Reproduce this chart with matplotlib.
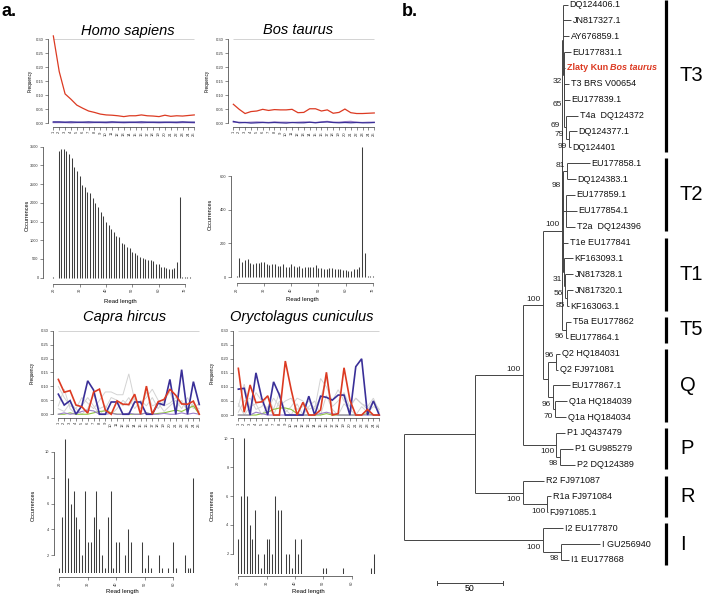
import matplotlib
matplotlib.use("Agg")
import matplotlib.pyplot as plt
import numpy as np

plt.rcParams['font.family'] = ['Liberation Sans', 'DejaVu Sans']

W, H, DPI = 706, 595, 100

# ---------------- panel a : frequency data ----------------
pos = list(range(1, 26))

homo_red = [0.312, 0.185, 0.105, 0.086, 0.065, 0.054, 0.044, 0.039, 0.033, 0.030, 0.029, 0.027, 0.024,
            0.027, 0.027, 0.030, 0.027, 0.026, 0.024, 0.029, 0.025, 0.027, 0.026, 0.028, 0.030]
homo_blue = [0.005, 0.005, 0.004, 0.005, 0.004, 0.004, 0.005, 0.004, 0.004, 0.004, 0.005, 0.004, 0.004,
             0.004, 0.004, 0.005, 0.004, 0.004, 0.004, 0.004, 0.004, 0.004, 0.005, 0.004, 0.004]
homo_purple = [0.003, 0.003, 0.003, 0.002, 0.003, 0.003, 0.002, 0.003, 0.003, 0.002, 0.003, 0.003, 0.002,
               0.003, 0.003, 0.002, 0.003, 0.003, 0.002, 0.003, 0.003, 0.002, 0.003, 0.003, 0.002]

bos_red = [0.068, 0.050, 0.035, 0.042, 0.044, 0.050, 0.046, 0.049, 0.048, 0.048, 0.050, 0.038, 0.039,
           0.052, 0.052, 0.044, 0.048, 0.036, 0.039, 0.051, 0.038, 0.035, 0.035, 0.036, 0.037]
bos_blue = [0.007, 0.002, 0.003, 0.001, 0.002, 0.003, 0.002, 0.003, 0.002, 0.001, 0.003, 0.002, 0.002,
            0.004, 0.002, 0.004, 0.005, 0.003, 0.002, 0.003, 0.002, 0.003, 0.002, 0.002, 0.003]
bos_purple = [0.004, 0.004, 0.003, 0.004, 0.005, 0.004, 0.003, 0.005, 0.004, 0.004, 0.003, 0.004, 0.005,
              0.004, 0.003, 0.005, 0.007, 0.004, 0.004, 0.006, 0.007, 0.004, 0.003, 0.004, 0.004]

capra_red = [0.125, 0.079, 0.085, 0.033, 0.027, 0.004, 0.079, 0.090, 0.015, 0.000, 0.048, 0.036, 0.035,
             0.072, 0.000, 0.101, 0.000, 0.045, 0.053, 0.090, 0.068, 0.037, 0.036, 0.047, 0.000]
capra_blue = [0.072, 0.033, 0.049, 0.000, 0.030, 0.120, 0.087, 0.000, 0.000, 0.044, 0.044, 0.000, 0.000,
              0.044, 0.044, 0.000, 0.000, 0.040, 0.033, 0.125, 0.000, 0.160, 0.000, 0.117, 0.035]
capra_gray1 = [0.100, 0.060, 0.030, 0.020, 0.060, 0.040, 0.020, 0.050, 0.080, 0.080, 0.070, 0.070, 0.145,
               0.050, 0.040, 0.060, 0.090, 0.050, 0.030, 0.040, 0.060, 0.040, 0.020, 0.030, 0.020]
capra_gray2 = [0.030, 0.090, 0.020, 0.000, 0.030, 0.060, 0.030, 0.000, 0.020, 0.060, 0.050, 0.030, 0.060,
               0.020, 0.050, 0.030, 0.060, 0.020, 0.050, 0.080, 0.020, 0.050, 0.010, 0.040, 0.010]
capra_gray3 = [0.020, 0.010, 0.040, 0.020, 0.000, 0.020, 0.070, 0.020, 0.030, 0.000, 0.020, 0.050, 0.030,
               0.060, 0.020, 0.080, 0.030, 0.040, 0.010, 0.030, 0.050, 0.020, 0.060, 0.020, 0.040]
capra_green = [0.000, 0.000, 0.005, 0.000, 0.000, 0.000, 0.005, 0.010, 0.012, 0.005, 0.000, 0.000, 0.000,
               0.000, 0.000, 0.005, 0.000, 0.003, 0.005, 0.010, 0.015, 0.010, 0.020, 0.030, 0.000]
capra_purple = [0.000, 0.005, 0.000, 0.003, 0.010, 0.015, 0.012, 0.000, 0.000, 0.003, 0.000, 0.000, 0.004,
                0.000, 0.000, 0.005, 0.000, 0.000, 0.003, 0.000, 0.000, 0.005, 0.000, 0.004, 0.000]

oryc_red = [0.166, 0.010, 0.107, 0.044, 0.047, 0.068, 0.000, 0.000, 0.192, 0.090, 0.000, 0.045, 0.000,
            0.000, 0.018, 0.152, 0.000, 0.005, 0.168, 0.053, 0.000, 0.000, 0.020, 0.000, 0.000]
oryc_blue = [0.092, 0.095, 0.000, 0.150, 0.059, 0.000, 0.118, 0.071, 0.000, 0.000, 0.000, 0.000, 0.067,
             0.000, 0.067, 0.063, 0.053, 0.071, 0.071, 0.000, 0.172, 0.200, 0.000, 0.050, 0.000]
oryc_gray1 = [0.030, 0.110, 0.020, 0.080, 0.050, 0.020, 0.060, 0.030, 0.050, 0.060, 0.020, 0.030, 0.050,
              0.020, 0.130, 0.100, 0.050, 0.090, 0.050, 0.030, 0.060, 0.040, 0.020, 0.050, 0.020]
oryc_gray2 = [0.010, 0.050, 0.060, 0.020, 0.030, 0.070, 0.020, 0.080, 0.010, 0.030, 0.060, 0.050, 0.020,
              0.030, 0.060, 0.130, 0.030, 0.050, 0.080, 0.030, 0.060, 0.040, 0.030, 0.060, 0.010]
oryc_gray3 = [0.040, 0.000, 0.030, 0.040, 0.000, 0.030, 0.000, 0.050, 0.020, 0.000, 0.040, 0.000, 0.030,
              0.050, 0.000, 0.070, 0.020, 0.000, 0.040, 0.020, 0.000, 0.030, 0.010, 0.030, 0.020]
oryc_green = [0.000, 0.000, 0.000, 0.000, 0.005, 0.010, 0.020, 0.025, 0.025, 0.020, 0.005, 0.000, 0.000,
              0.000, 0.000, 0.005, 0.000, 0.000, 0.000, 0.000, 0.000, 0.000, 0.005, 0.000, 0.000]
oryc_purple = [0.000, 0.000, 0.000, 0.010, 0.005, 0.000, 0.000, 0.000, 0.000, 0.000, 0.000, 0.000, 0.000,
               0.000, 0.005, 0.010, 0.005, 0.000, 0.000, 0.000, 0.000, 0.000, 0.000, 0.000, 0.000]

# ---------------- panel a : read-length histograms ----------------
homo_len = [20] + list(range(22, 73))
homo_cnt = [12, 3380, 3440, 3450, 3390, 3300, 3200, 2950, 2850, 2730, 2480, 2430, 2300, 2250, 2130, 2000,
            1900, 1750, 1650, 1500, 1420, 1300, 1230, 1120, 1080, 920, 900, 810, 780, 680, 660, 600, 560,
            530, 500, 480, 470, 450, 370, 360, 290, 290, 260, 230, 240, 270, 420, 2150, 10, 8, 6, 6]

bos_len = list(range(20, 71))
bos_cnt = [5, 110, 90, 100, 105, 85, 80, 85, 85, 90, 90, 75, 70, 75, 75, 65, 65, 75, 60, 60, 75, 65, 60,
           65, 55, 60, 60, 60, 60, 70, 55, 55, 45, 50, 55, 55, 50, 50, 45, 40, 40, 35, 35, 50, 50, 60,
           770, 140, 5, 4, 4]

capra_len = [20, 21, 22, 23, 24, 25, 26, 27, 28, 29, 30, 31, 32, 33, 34, 35, 36, 37, 38, 39, 40, 41, 43,
             44, 45, 49, 50, 51, 52, 55, 56, 58, 60, 61, 64, 65, 66, 67]
capra_cnt = [1, 5, 11, 8, 6, 7, 5, 4, 2, 7, 3, 3, 5, 7, 4, 2, 1, 5, 7, 1, 3, 3, 2,
             4, 3, 3, 1, 2, 1, 2, 1, 1, 3, 1, 2, 1, 1, 8]

oryc_len = [20, 21, 22, 23, 24, 25, 26, 27, 28, 29, 30, 31, 32, 33, 34, 35, 37, 38, 39, 40, 41, 42,
            50, 51, 57, 67, 68]
oryc_cnt = [3, 6, 10, 6, 4, 3, 5, 2, 1, 2, 3, 3, 2, 6, 5, 5, 2, 2, 1, 3, 2, 3,
            1, 1, 1, 1, 2]

freq_yticks = [0.00, 0.05, 0.10, 0.15, 0.20, 0.25, 0.30]
read_ticks = [20, 30, 40, 50, 60, 70]
read_ticks_short = [20, 30, 40, 50, 60]

# ---------------- panel b : tree data ----------------
ZLATY = "ZLATY"


def N(depth, boot, *children):
    return {'d': depth, 'b': boot, 'c': list(children)}


def L(name, depth):
    return {'d': depth, 'name': name}


tree = N(0, None,
         N(54, None,
           N(90, 100,
             N(105, 100,
               N(119.5, 100,
                 N(120, 69,
                   N(120.5, None, L('DQ124406.1', 124.2), L('JN817327.1', 126.5), L('AY676859.1', 125),
                     N(121, 32, L('EU177831.1', 126.5),
                       N(121.5, 65, L(ZLATY, 122), L('T3 BRS V00654', 125), L('EU177839.1', 125.8),
                         N(122.5, 79, L('T4a  DQ124372', 131.8),
                           N(125, 99, L('DQ124377.1', 131), L('DQ124401', 126.5)))))),
                   N(120.3, None,
                     N(120.8, 98,
                       N(123.5, 81, L('EU177858.1', 140.9), L('DQ124383.1', 130.3)),
                       N(122.7, None, L('EU177859.1', 129.5), L('EU177854.1', 131),
                         L('T2a  DQ124396', 129.5))),
                     N(120.5, None, L('T1e EU177841', 124.2),
                       N(121, 31, L('KF163093.1', 128),
                         N(122, 56, L('JN817328.1', 128),
                           N(123.5, 85, L('JN817320.1', 128), L('KF163063.1', 125))))))),
                 N(122.5, 96, L('T5a EU177862', 126.5), L('EU177864.1', 124.2))),
               N(109, None,
                 N(115, 96, L('Q2 HQ184031', 118.2), L('Q2 FJ971081', 116.7)),
                 N(113, 96, L('EU177867.1', 125.8),
                   N(114.5, 70, L('Q1a HQ184039', 123.5), L('Q1a HQ184034', 122.7))))),
             N(115.5, 100, L('P1 JQ437479', 122),
               N(118, 98, L('P1 GU985279', 128), L('P2 DQ124389', 129.5)))),
           N(90, 100, L('R2 FJ971087', 106),
             N(108.5, 100, L('R1a FJ971084', 111.4), L('FJ971085.1', 109)))),
         N(105, 100, L('I2 EU177870', 120.5),
           N(119, 98, L('I GU256940', 148.5), L('I1 EU177868', 125))))

clade_names = ['T3', 'T2', 'T1', 'T5', 'Q', 'P', 'R', 'I']
clade_first = [0, 10, 15, 20, 22, 27, 30, 33]
clade_last = [9, 14, 19, 21, 26, 29, 32, 35]
scale_value = 50

# ---------------- styling ----------------
RED = '#DC3A22'
BLUE = '#3A2F98'
PURPLE = '#9C80C9'
GREEN = '#8DC43F'
LGRAY = '#D3D3D3'
AXC = '#333333'
BARC = '#3d3d3d'

fig = plt.figure(figsize=(W / DPI, H / DPI), dpi=DPI)


def px_axes(l, t, r, b):
    return fig.add_axes([l / W, 1 - b / H, (r - l) / W, (b - t) / H])


def ftext(x, y, s, **kw):
    return fig.text(x / W, 1 - y / H, s, **kw)


def freq_panel(box, series, title, title_xy, ylab_x):
    l, t, r, b = box
    ax = px_axes(l, t, r, b)
    ax.set_xlim(0.04, 25.96)
    ax.set_ylim(-0.012, 0.312)
    ax.hlines(freq_yticks[-1], pos[0], pos[-1], color=LGRAY, lw=0.7, zorder=1)
    for vals, col, lw in series:
        ax.plot(pos, vals, color=col, lw=lw, clip_on=False, zorder=2, solid_joinstyle='miter')
    for s in ['top', 'right']:
        ax.spines[s].set_visible(False)
    ax.spines['left'].set_bounds(freq_yticks[0], freq_yticks[-1])
    ax.spines['bottom'].set_bounds(pos[0], pos[-1])
    for s in ['left', 'bottom']:
        ax.spines[s].set_linewidth(0.5)
        ax.spines[s].set_color(AXC)
    ax.set_yticks(freq_yticks)
    ax.set_yticklabels(['%.2f' % v for v in freq_yticks])
    ax.set_xticks(pos)
    ax.set_xticklabels([str(p) for p in pos], rotation=90)
    ax.tick_params(length=2, width=0.4, labelsize=3.0, pad=1.2, colors=AXC)
    ax.patch.set_alpha(0)
    ftext(title_xy[0], title_xy[1], title, ha='center', va='center', fontsize=10.5, style='italic')
    ftext(ylab_x, (t + b) / 2, 'Frequency', ha='center', va='center', rotation=90, fontsize=3.3)
    return ax


def hist_panel(box, xlim, ylim, lens, cnts, xt, yt, ylab_x, xlab_xy, yfmt, xoff=0):
    l, t, r, b = box
    ax = px_axes(l, t, r, b)
    ax.set_xlim(*xlim)
    ax.set_ylim(*ylim)
    ax.vlines(lens, 0, cnts, color=BARC, lw=0.75)
    for s in ['top', 'right']:
        ax.spines[s].set_visible(False)
    ax.spines['left'].set_bounds(yt[0], yt[-1])
    ax.spines['bottom'].set_bounds(xt[0], xt[-1])
    ax.spines['bottom'].set_position(('outward', xoff))
    for s in ['left', 'bottom']:
        ax.spines[s].set_linewidth(0.5)
        ax.spines[s].set_color(AXC)
    ax.set_yticks(yt)
    ax.set_yticklabels([yfmt % v for v in yt])
    ax.set_xticks(xt)
    ax.set_xticklabels([str(v) for v in xt], rotation=90)
    ax.tick_params(length=2, width=0.4, labelsize=2.8, pad=1.2, colors=AXC)
    ax.patch.set_alpha(0)
    ftext(ylab_x, (t + b) / 2 + 2, 'Occurrences', ha='center', va='center', rotation=90, fontsize=4.0)
    ftext(xlab_xy[0], xlab_xy[1], 'Read length', ha='center', va='center', fontsize=4.3)
    return ax


# frequency panels
freq_panel((47.7, 35.9, 199.9, 126.7),
           [(homo_purple, PURPLE, 1.0), (homo_blue, BLUE, 1.0), (homo_red, RED, 0.9)],
           'Homo sapiens', (128, 31), 30)
freq_panel((227.7, 35.9, 379.9, 126.7),
           [(bos_purple, PURPLE, 0.9), (bos_blue, BLUE, 0.9), (bos_red, RED, 0.9)],
           'Bos taurus', (298, 30), 207)
freq_panel((52.7, 327.3, 204.9, 417.6),
           [(capra_gray1, LGRAY, 0.7), (capra_gray2, LGRAY, 0.7), (capra_gray3, LGRAY, 0.7),
            (capra_green, GREEN, 0.8), (capra_purple, PURPLE, 0.8),
            (capra_blue, BLUE, 1.2), (capra_red, RED, 1.2)],
           'Capra hircus', (125, 317), 32)
freq_panel((232.7, 327.3, 384.9, 418.4),
           [(oryc_gray1, LGRAY, 0.7), (oryc_gray2, LGRAY, 0.7), (oryc_gray3, LGRAY, 0.7),
            (oryc_green, GREEN, 0.8), (oryc_purple, PURPLE, 0.8),
            (oryc_blue, BLUE, 1.2), (oryc_red, RED, 1.2)],
           'Oryctolagus cuniculus', (302, 317), 212)

# histograms
hist_panel((43, 143, 198, 283.5), (16.08, 75.02), (-156, 3600), homo_len, homo_cnt,
           read_ticks, list(range(0, 3501, 500)), 27, (120, 301), '%d')
hist_panel((230.5, 142, 379, 283), (17.72, 72.2), (-35.6, 802), bos_len, bos_cnt,
           read_ticks, [0, 200, 400, 600], 210, (302, 300), '%d')
hist_panel((53.5, 433.9, 198.7, 573.3), (17.96, 68.9), (0.6, 11.4), capra_len, capra_cnt,
           read_ticks_short, [2, 4, 6, 8, 10], 33, (122, 591), '%d', xoff=3)
hist_panel((232.9, 432.8, 379.6, 573.7), (18.1, 69.9), (0.64, 10.36), oryc_len, oryc_cnt,
           read_ticks_short, [2, 4, 6, 8, 10], 212, (308, 591), '%d', xoff=2)

ftext(1, 12, 'a.', fontsize=13, fontweight='bold', va='center', ha='left')
ftext(402, 12, 'b.', fontsize=13, fontweight='bold', va='center', ha='left')

# ---------------- panel b : tree ----------------
PX_UNIT = 1.32
ROOT_PX = 404
LEAF0 = 4.5
LEAF_STEP = 15.87
tl, tr = 395, 706
axT = px_axes(tl, 0, tr, H)
axT.set_xlim((tl - ROOT_PX) / PX_UNIT, (tr - ROOT_PX) / PX_UNIT)
axT.set_ylim((H - LEAF0) / LEAF_STEP, -LEAF0 / LEAF_STEP)
axT.axis('off')

leaves = []


def layout(nd):
    if 'c' not in nd:
        nd['y'] = len(leaves)
        leaves.append(nd)
        return
    for ch in nd['c']:
        layout(ch)
    nd['y'] = (nd['c'][0]['y'] + nd['c'][-1]['y']) / 2


layout(tree)

TCOL = '#444444'
TLW = 0.7


def draw(nd):
    if 'c' not in nd:
        return
    ys = [ch['y'] for ch in nd['c']]
    axT.plot([nd['d'], nd['d']], [ys[0], ys[-1]], color=TCOL, lw=TLW, solid_capstyle='butt')
    for i, ch in enumerate(nd['c']):
        axT.plot([nd['d'], ch['d']], [ch['y'], ch['y']], color=TCOL, lw=TLW, solid_capstyle='butt')
        if 'c' in ch and ch['b'] is not None:
            dy = 4.3 if i == 0 else -5.0
            axT.annotate(str(ch['b']), xy=(ch['d'], ch['y']), xytext=(-1.5, dy),
                         textcoords='offset points', ha='right', va='center', fontsize=6,
                         color='#222222')
        draw(ch)


draw(tree)

for lf in leaves:
    if lf['name'] == ZLATY:
        t1 = axT.annotate('Zlaty Kun ', xy=(lf['d'], lf['y']), xytext=(1.2, 0),
                          textcoords='offset points', ha='left', va='center', fontsize=6.5,
                          color=RED, fontweight='bold')
        axT.annotate('Bos taurus', xy=(1, 0.5), xycoords=t1, ha='left', va='center',
                     fontsize=6.5, color=RED, fontweight='bold', style='italic')
    else:
        axT.annotate(lf['name'], xy=(lf['d'], lf['y']), xytext=(1.2, 0),
                     textcoords='offset points', ha='left', va='center', fontsize=6.5,
                     color='#111111')

# clade bars
BAR_X = (666 - ROOT_PX) / PX_UNIT
LAB_X = (680 - ROOT_PX) / PX_UNIT
for name, a, b in zip(clade_names, clade_first, clade_last):
    axT.vlines(BAR_X, a - 0.3, b + 0.3, color='black', lw=2.3)
    axT.text(LAB_X, (a + b) / 2, name, ha='left', va='center', fontsize=14.5)

# scale bar
SB_X0 = (437 - ROOT_PX) / PX_UNIT
sb_y = len(leaves) + 0.45
axT.plot([SB_X0, SB_X0 + scale_value], [sb_y, sb_y], color=TCOL, lw=0.7)
axT.plot([SB_X0, SB_X0], [sb_y - 0.15, sb_y + 0.15], color=TCOL, lw=0.7)
axT.plot([SB_X0 + scale_value] * 2, [sb_y - 0.15, sb_y + 0.15], color=TCOL, lw=0.7)
axT.text(SB_X0 + scale_value / 2, sb_y + 0.38, str(scale_value), ha='center', va='center', fontsize=6.3)

fig.savefig('out.png', dpi=DPI)
